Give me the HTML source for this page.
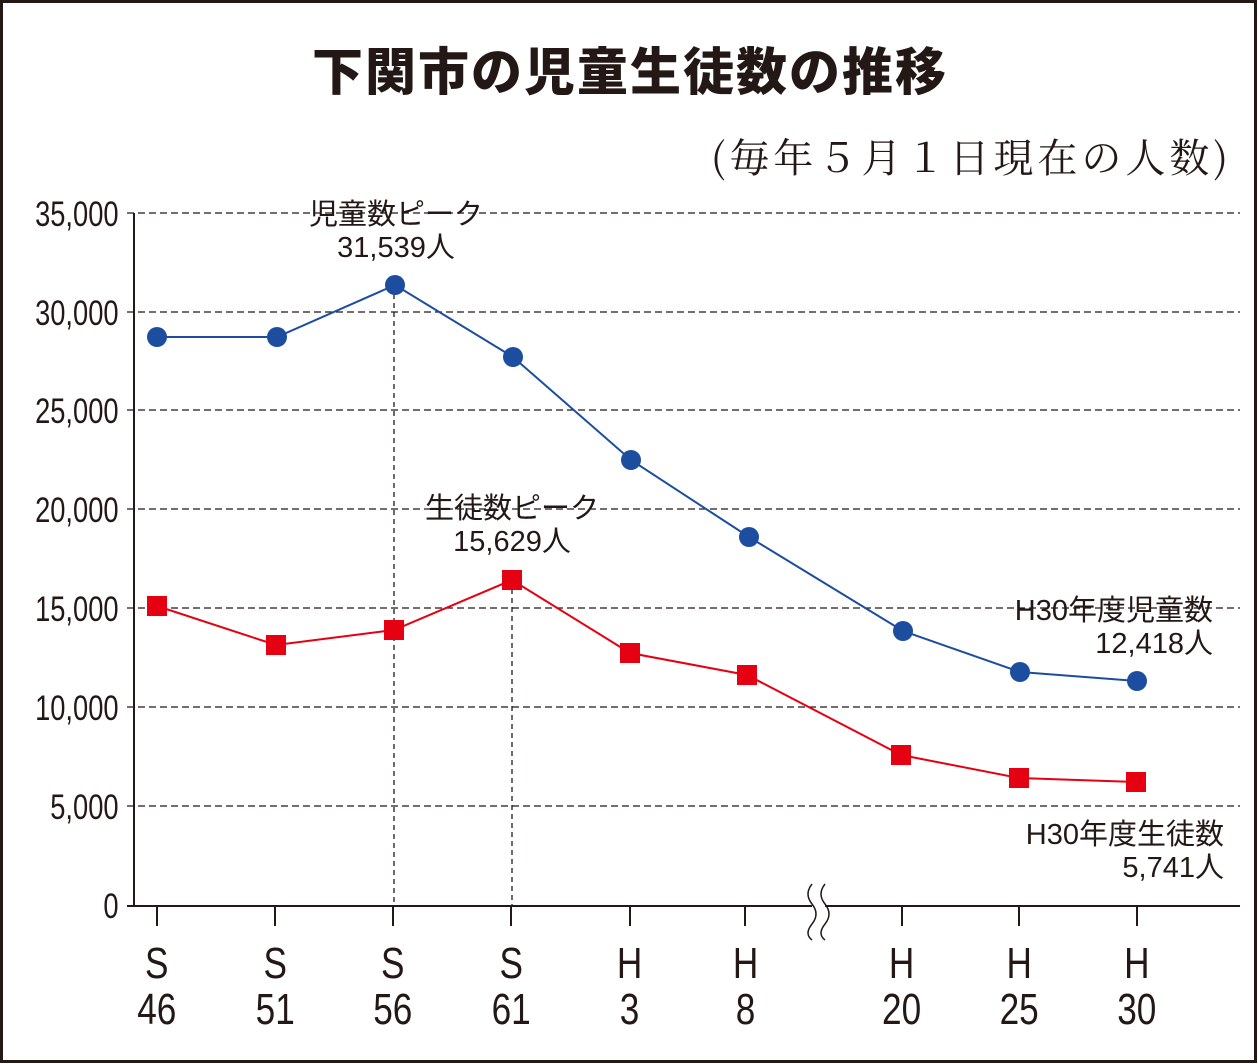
<!DOCTYPE html>
<html><head><meta charset="utf-8"><style>
html,body{margin:0;padding:0;background:#fff}
svg{display:block}
text{font-family:"Liberation Sans","Noto Sans CJK JP",sans-serif;fill:#231815}
</style></head><body>
<svg width="1258" height="1064" viewBox="0 0 1258 1064">
<rect x="1.5" y="1.5" width="1254" height="1060" fill="#fff" stroke="#231815" stroke-width="3"/>
<text x="630" y="90" text-anchor="middle" font-size="51" font-weight="900" style="font-family:'Noto Sans CJK JP',sans-serif" letter-spacing="2">下関市の児童生徒数の推移</text>
<text x="1232" y="172" text-anchor="end" font-size="40" letter-spacing="4" style="font-family:'Noto Serif CJK SC','Liberation Serif',serif">(毎年５月１日現在の人数)</text>
<g stroke="#231815" stroke-width="1.3" stroke-dasharray="7,4">
<line x1="127" y1="213" x2="1240" y2="213"/><line x1="127" y1="312" x2="1240" y2="312"/>
<line x1="127" y1="410" x2="1240" y2="410"/><line x1="127" y1="509" x2="1240" y2="509"/>
<line x1="127" y1="608" x2="1240" y2="608"/><line x1="127" y1="707" x2="1240" y2="707"/>
<line x1="127" y1="806" x2="1240" y2="806"/>
<line x1="394" y1="285" x2="394" y2="906" stroke-dasharray="5,4"/>
<line x1="512" y1="580" x2="512" y2="906" stroke-dasharray="5,4"/>
</g>
<g stroke="#231815" stroke-width="2" fill="none">
<line x1="134" y1="213" x2="134" y2="906"/>
<line x1="127" y1="906" x2="812" y2="906"/><line x1="825" y1="906" x2="1240" y2="906"/>
<line x1="157" y1="906" x2="157" y2="926"/><line x1="275" y1="906" x2="275" y2="926"/>
<line x1="393" y1="906" x2="393" y2="926"/><line x1="511" y1="906" x2="511" y2="926"/>
<line x1="630" y1="906" x2="630" y2="926"/><line x1="745" y1="906" x2="745" y2="926"/>
<line x1="902" y1="906" x2="902" y2="926"/><line x1="1019" y1="906" x2="1019" y2="926"/>
<line x1="1137" y1="906" x2="1137" y2="926"/>
<path d="M812 884 q-8 10 0 20 q8 10 0 20 q-8 10 0 16" stroke-width="1.5"/>
<path d="M825 884 q-8 10 0 20 q8 10 0 20 q-8 10 0 16" stroke-width="1.5"/>
</g>
<g font-size="35" text-anchor="end" transform="scale(0.78,1)">
<text x="152" y="226">35,000</text><text x="152" y="325">30,000</text><text x="152" y="423">25,000</text>
<text x="152" y="522">20,000</text><text x="152" y="621">15,000</text><text x="152" y="720">10,000</text>
<text x="152" y="819">5,000</text><text x="152" y="918">0</text>
</g>
<g font-size="44" text-anchor="middle" transform="scale(0.8,1)">
<text x="196" y="978">S</text><text x="196" y="1024">46</text>
<text x="344" y="978">S</text><text x="344" y="1024">51</text>
<text x="491" y="978">S</text><text x="491" y="1024">56</text>
<text x="639" y="978">S</text><text x="639" y="1024">61</text>
<text x="787" y="978">H</text><text x="787" y="1024">3</text>
<text x="932" y="978">H</text><text x="932" y="1024">8</text>
<text x="1127" y="978">H</text><text x="1127" y="1024">20</text>
<text x="1274" y="978">H</text><text x="1274" y="1024">25</text>
<text x="1421" y="978">H</text><text x="1421" y="1024">30</text>
</g>
<polyline fill="none" stroke="#1d4d9f" stroke-width="2" points="157,337 277,337 395,285 513,357 631,460 749,537 903,631 1020,672 1137,681"/>
<g fill="#1d4d9f">
<circle cx="157" cy="337" r="10"/><circle cx="277" cy="337" r="10"/><circle cx="395" cy="285" r="10"/>
<circle cx="513" cy="357" r="10"/><circle cx="631" cy="460" r="10"/><circle cx="749" cy="537" r="10"/>
<circle cx="903" cy="631" r="10"/><circle cx="1020" cy="672" r="10"/><circle cx="1137" cy="681" r="10"/>
</g>
<polyline fill="none" stroke="#e50012" stroke-width="2" points="157,606 276,645 394,630 512,580 630,653 747,675 901,755 1019,778 1136,782"/>
<g fill="#e50012">
<rect x="147" y="596" width="20" height="20"/><rect x="266" y="635" width="20" height="20"/>
<rect x="384" y="620" width="20" height="20"/><rect x="502" y="570" width="20" height="20"/>
<rect x="620" y="643" width="20" height="20"/><rect x="737" y="665" width="20" height="20"/>
<rect x="891" y="745" width="20" height="20"/><rect x="1009" y="768" width="20" height="20"/>
<rect x="1126" y="772" width="20" height="20"/>
</g>
<g font-size="29" text-anchor="middle">
<text x="396" y="224">児童数ピーク</text><text x="396" y="257">31,539人</text>
<text x="512" y="518">生徒数ピーク</text><text x="512" y="551">15,629人</text>
</g>
<g font-size="29" text-anchor="end">
<text x="1213" y="620">H30年度児童数</text><text x="1213" y="653">12,418人</text>
<text x="1224" y="844">H30年度生徒数</text><text x="1224" y="877">5,741人</text>
</g>
</svg>
</body></html>
